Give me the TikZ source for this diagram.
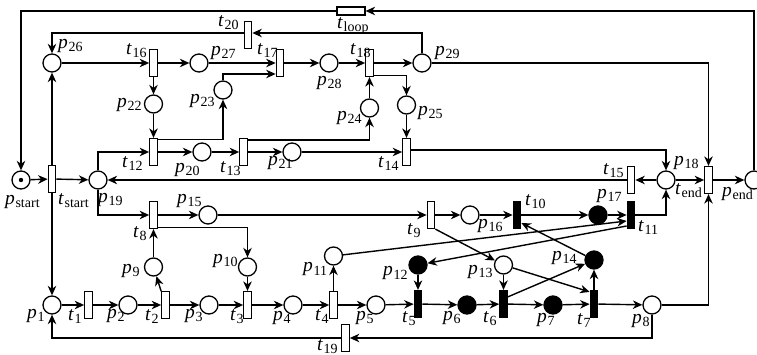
\documentclass[tikz,border=0pt]{standalone}
\usepackage{fontspec}
\setmainfont{Liberation Serif}
\usetikzlibrary{arrows.meta,calc}

% italic letter with a lowered upright subscript
\newcommand\lb[2]{\textit{#1}\kern0.6pt\raisebox{-3pt}{\fontsize{14}{14}\selectfont #2}}

\begin{document}
\begin{tikzpicture}[x=1pt,y=-1pt,
  place/.style={circle,draw,line width=1.3pt,minimum size=18pt,inner sep=0pt},
  token/.style={place,fill=black},
  trans/.style={rectangle,draw,line width=1.2pt,minimum width=7.5pt,minimum height=27pt,inner sep=0pt},
  ftrans/.style={trans,fill=black},
  arc/.style={line width=1.4pt,-{Stealth[length=9.5pt,width=8.5pt,inset=3pt]}},
  lbl/.style={anchor=base west,inner sep=0pt,font=\fontsize{19.5}{19.5}\selectfont}]

\useasboundingbox (0,0) rectangle (757,355);

% ---------- places ----------
\node[place] (ps)  at (21,180) {};
\fill (ps) circle (2.2pt);
\node[place] (p1)  at (52,305) {};
\node[place] (p2)  at (128,305) {};
\node[place] (p3)  at (209,305) {};
\node[place] (p4)  at (293,305) {};
\node[place] (p5)  at (376,305) {};
\node[token] (p6)  at (467,305) {};
\node[token] (p7)  at (553,305) {};
\node[place] (p8)  at (652,305) {};
\node[place] (p9)  at (153.5,267) {};
\node[place] (p10) at (247.5,267) {};
\node[place] (p11) at (333.5,256) {};
\node[token] (p12) at (418,265) {};
\node[place] (p13) at (503.5,265) {};
\node[token] (p14) at (594,260) {};
\node[place] (p15) at (208,215) {};
\node[place] (p16) at (470,215) {};
\node[token] (p17) at (598,215) {};
\node[place] (p18) at (666,180) {};
\node[place] (p19) at (98,180) {};
\node[place] (p20) at (202,152) {};
\node[place] (p21) at (292,152) {};
\node[place] (p22) at (153.5,104) {};
\node[place] (p23) at (223,90) {};
\node[place] (p24) at (369.5,108) {};
\node[place] (p25) at (406.5,105) {};
\node[place] (p26) at (52,63) {};
\node[place] (p27) at (199,63) {};
\node[place] (p28) at (329,63) {};
\node[place] (p29) at (422,63) {};
\node[place] (pe)  at (754,180) {};

% ---------- transitions ----------
\node[trans]  (tstart) at (52,179) {};
\node[trans]  (t1)  at (88.5,305) {};
\node[trans]  (t2)  at (165.5,305) {};
\node[trans]  (t3)  at (247.5,305) {};
\node[trans]  (t4)  at (333.5,305) {};
\node[ftrans] (t5)  at (418,304) {};
\node[ftrans] (t6)  at (503.5,304) {};
\node[ftrans] (t7)  at (594,304) {};
\node[trans]  (t8)  at (153.5,215) {};
\node[trans]  (t9)  at (431,215) {};
\node[ftrans] (t10) at (517,215) {};
\node[ftrans] (t11) at (631,215) {};
\node[trans]  (t12) at (153.5,152) {};
\node[trans]  (t13) at (243.5,152) {};
\node[trans]  (t14) at (406.5,152) {};
\node[trans]  (t15) at (631,180) {};
\node[trans]  (t16) at (153.5,63) {};
\node[trans]  (t17) at (280,63) {};
\node[trans]  (t18) at (369.5,63) {};
\node[trans]  (t19) at (345.5,338) {};
\node[trans]  (t20) at (248,35) {};
\node[trans]  (tend) at (708.5,180) {};
\node[trans,minimum width=28pt,minimum height=8pt] (tloop) at (351,11) {};

% ---------- straight arcs ----------
\foreach \a/\b in {ps/tstart, tstart/p19, tstart/p26, tstart/p1,
    p26/t16, t16/p27, p27/t17, t17/p28, p28/t18, t18/p29,
    t16/p22, p22/t12, t12/p20, p20/t13, t13/p21, p21/t14,
    p24/t18, p25/t14,
    p18/t15, p18/tend, tend/pe, t15/p19,
    p1/t1, t1/p2, p2/t2, t2/p3, p3/t3, t3/p4, p4/t4, t4/p5, p5/t5,
    t5/p6, p6/t6, t6/p7, p7/t7, t7/p8,
    t2/p9, p9/t8, p10/t3, t4/p11, p12/t5, p13/t6, t7/p14,
    t8/p15, p15/t9, t9/p16, p16/t10, t10/p17, p17/t11}
  \draw[arc] (\a) -- (\b);

% ---------- routed arcs ----------
\draw[arc] (p19.north) |- (t12.west);
\draw[arc] (p19.south) |- (t8.west);
\draw[arc] ($(t12.north east)+(0,1.5)$) -| (p23.south);
\draw[arc] ($(t13.north east)+(0,2)$) -| (p24.south);
\draw[arc] (p23.north) |- ($(t17.west)+(0,11)$);
\draw[arc] ($(t18.south east)+(0,-1.5)$) -| (p25.north);
\draw[arc] ($(t14.east)+(0,-2)$) -| (p18.north);
\draw[arc] (p29.north) |- ($(t20.east)+(0,-2)$);
\draw[arc] ($(t20.west)+(0,-2)$) -| (p26.north);
\draw[arc] (p29.east) -| (tend.north);
\draw[arc] (pe.north) |- (tloop.east);
\draw[arc] (tloop.west) -| (ps.north);
\draw[arc] (t11.east) -| (p18.south);
\draw[arc] (p8.east) -| (tend.south);
\draw[arc] (p8.south) |- (t19.east);
\draw[arc] (t19.west) -| (p1.south);
\draw[arc] ($(t8.south east)+(0,-1.5)$) -| (p10.north);

% ---------- crossing arcs ----------
\draw[arc] (p11) -- ($(t11.west)+(0,6)$);
\draw[arc] ($(t11.west)+(0,11)$) -- (p12);
\draw[arc] (t9.south east) -- (p13);
\draw[arc] (p13) -- ($(t7.north west)+(0,2)$);
\draw[arc] ($(t6.north east)+(0,7)$) -- (p14);
\draw[arc] (p14) -- ($(t10.east)+(0,8)$);

% ---------- labels ----------
\foreach \n/\x/\y/\a/\b in {
    ps/5/205/p/start, tstart/58/205/t/start, p19/98/203/p/19,
    p26/58/49/p/26, t16/126/55/t/16, p27/211/56/p/27,
    p22/117/108/p/22, p23/190/104/p/23, t12/122/168/t/12,
    p20/175/173/p/20, t13/220/173/t/13, t20/218/27/t/20,
    tloop/337/29/t/loop, t17/257/55/t/17, t18/350/55/t/18,
    p29/435/56/p/29, p28/317/86/p/28, p24/337/121/p/24,
    p25/418/116/p/25, p21/268/166/p/21, t14/378/168/t/14,
    t15/603/175/t/15, p18/674/166/p/18, tend/675/195/t/end,
    pe/722/197/p/end, p15/177/204/p/15, t8/133/238/t/8,
    p9/122/273/p/9, p10/213/263/p/10, p1/27/318/p/1,
    t1/68/320/t/1, p2/107/318/p/2, t2/145/320/t/2,
    p3/185/318/p/3, t3/230/320/t/3, p4/273/320/p/4,
    t4/315/320/t/4, p5/356/320/p/5, t5/402/322/t/5,
    p6/443/320/p/6, t6/483/322/t/6, t19/317/350/t/19,
    p11/303/272/p/11, p12/383/276/p/12, t9/407/235/t/9,
    p16/478/229/p/16, t10/525/206/t/10, p17/597/199/p/17,
    t11/638/232/t/11, p13/468/274/p/13, p14/552/261/p/14,
    p7/537/322/p/7, t7/577/324/t/7, p8/632/323/p/8}
  \node[lbl] (l\n) at (\x,\y) {\lb{\a}{\b}};

\end{tikzpicture}
\end{document}
